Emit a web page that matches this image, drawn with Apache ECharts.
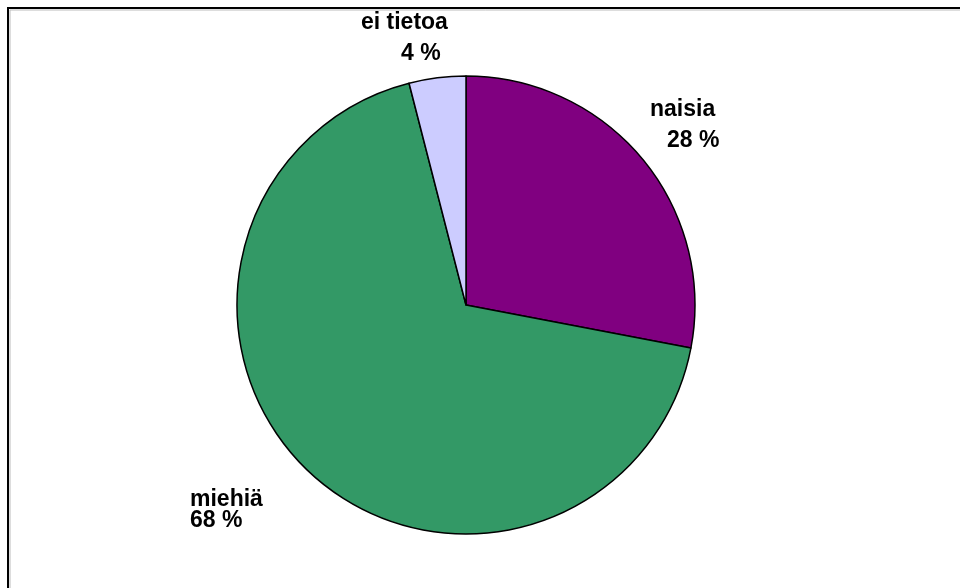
<!DOCTYPE html>
<html>
<head>
<meta charset="utf-8">
<script src="https://cdn.jsdelivr.net/npm/echarts@6/dist/echarts.min.js"></script>
<style>html,body{margin:0;padding:0;background:#fff}#c{width:960px;height:588px}</style>
</head>
<body>
<div id="c"></div>
<script>
// Data
var categories = ['naisia', 'miehiä', 'ei tietoa'];
var values = [28, 68, 4];
var valueLabels = ['28 %', '68 %', '4 %'];

// Styles (not data)
var colors = ['#800080', '#339966', '#CCCCFF'];
var labelPlacement = [
  { x: 650, y: 125, lh: 31, pad2: 17 },
  { x: 190, y: 510, lh: 21, pad2: 0 },
  { x: 361, y: 38.5, lh: 31, pad2: 40 }
];

var chart = echarts.init(document.getElementById('c'), null, { renderer: 'canvas' });

var seriesData = categories.map(function (name, i) {
  var p = labelPlacement[i];
  return {
    name: name,
    value: values[i],
    itemStyle: { color: colors[i] },
    label: {
      formatter: '{a|' + name + '}\n{b|' + valueLabels[i] + '}',
      rich: {
        a: { fontFamily: 'Liberation Sans, Arial, sans-serif', fontWeight: 'bold', fontSize: 23, color: '#000', lineHeight: p.lh },
        b: { fontFamily: 'Liberation Sans, Arial, sans-serif', fontWeight: 'bold', fontSize: 23, color: '#000', lineHeight: p.lh, padding: [0, 0, 0, p.pad2] }
      }
    }
  };
});

chart.setOption({
  animation: false,
  backgroundColor: '#ffffff',
  graphic: [{
    type: 'rect',
    shape: { x: 8, y: 8, width: 1000, height: 1000 },
    style: { fill: 'none', stroke: '#000', lineWidth: 2 },
    z: 100
  }, {
    type: 'polyline',
    shape: { points: [[10, 1000], [10, 10], [1000, 10]] },
    style: { fill: 'none', stroke: '#bbbbbb', lineWidth: 1 },
    z: 99
  }],
  series: [{
    type: 'pie',
    center: [466, 305],
    radius: [0, 229],
    startAngle: 90,
    clockwise: true,
    avoidLabelOverlap: false,
    itemStyle: { borderColor: '#000', borderWidth: 1.5 },
    label: { show: true, position: 'outside' },
    labelLine: { show: false },
    emphasis: { disabled: true },
    labelLayout: function (params) {
      var p = labelPlacement[params.dataIndex];
      return { x: p.x, y: p.y, align: 'left', verticalAlign: 'middle' };
    },
    data: seriesData
  }]
});
</script>
</body>
</html>
